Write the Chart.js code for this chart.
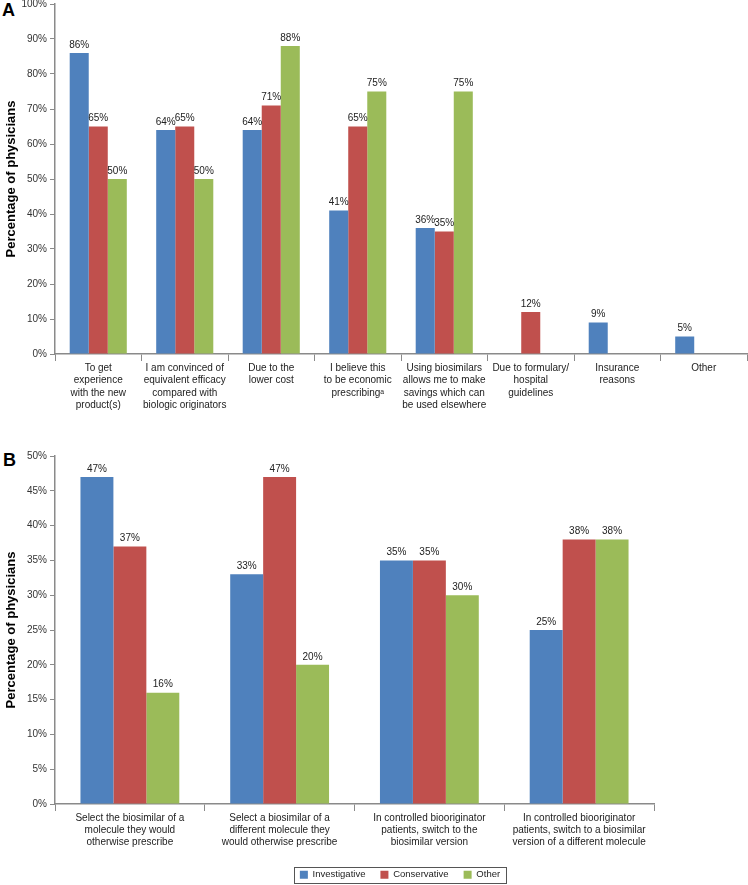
<!DOCTYPE html>
<html>
<head>
<meta charset="utf-8">
<script src="https://cdn.jsdelivr.net/npm/chart.js@4/dist/chart.umd.min.js"></script>
<style>
  html, body { margin: 0; padding: 0; background: #fff; }
  .wrap { position: absolute; left: 0; width: 748px; }
  .panel { position: absolute; font: bold 18px "Liberation Sans", Arial, sans-serif; line-height: 18px; color: #000; }
</style>
</head>
<body>
<div class="panel" style="left:2px;top:1px">A</div>
<div class="panel" style="left:3px;top:451px">B</div>
<div class="wrap" style="top:0;height:440px"><canvas id="chartA" width="748" height="440"></canvas></div>
<div class="wrap" style="top:440px;height:445px"><canvas id="chartB" width="748" height="445"></canvas></div>
<script>
const groups = ['Investigative', 'Conservative', 'Other'];
const groupColors = ['#4F81BD', '#C0504D', '#9BBB59'];

// panel A: reasons for prescribing biosimilars
const reasonLabels = [
  ['To get', 'experience', 'with the new', 'product(s)'],
  ['I am convinced of', 'equivalent efficacy', 'compared with', 'biologic originators'],
  ['Due to the', 'lower cost'],
  ['I believe this', 'to be economic', 'prescribingᵃ'],
  ['Using biosimilars', 'allows me to make', 'savings which can', 'be used elsewhere'],
  ['Due to formulary/', 'hospital', 'guidelines'],
  ['Insurance', 'reasons'],
  ['Other']
];
const reasonInvestigative = [86, 64, 64, 41, 36, null, 9, 5];
const reasonConservative = [65, 65, 71, 65, 35, 12, null, null];
const reasonOther = [50, 50, 88, 75, 75, null, null, null];

// panel B: willingness to switch
const switchLabels = [
  ['Select the biosimilar of a', 'molecule they would', 'otherwise prescribe'],
  ['Select a biosimilar of a', 'different molecule they', 'would otherwise prescribe'],
  ['In controlled biooriginator', 'patients, switch to the', 'biosimilar version'],
  ['In controlled biooriginator', 'patients, switch to a biosimilar', 'version of a different molecule']
];
const switchInvestigative = [47, 33, 35, 25];
const switchConservative = [37, 47, 35, 38];
const switchOther = [16, 20, 30, 38];

const FONT = '"Liberation Sans", Arial, sans-serif';
const AXIS = '#8a8a8a';
Chart.defaults.font.family = FONT;

const valueLabels = {
  id: 'valueLabels',
  afterDatasetsDraw(chart) {
    const ctx = chart.ctx;
    ctx.save();
    ctx.font = '10px ' + FONT;
    ctx.fillStyle = '#222';
    ctx.textAlign = 'center';
    ctx.textBaseline = 'bottom';
    chart.data.datasets.forEach((ds, i) => {
      chart.getDatasetMeta(i).data.forEach((bar, j) => {
        const v = ds.data[j];
        if (v == null) return;
        ctx.fillText(v + '%', bar.x, bar.y - 3);
      });
    });
    ctx.restore();
  }
};

function makeDatasets(a, b, c) {
  return [a, b, c].map((d, i) => ({
    label: groups[i],
    data: d,
    backgroundColor: groupColors[i],
    borderWidth: 0,
    categoryPercentage: 0.66,
    barPercentage: 1
  }));
}

function makeScales(max, step, xHeight, lineH) {
  return {
    x: {
      grid: { display: true, drawOnChartArea: false, drawTicks: true, tickLength: 7, color: AXIS, lineWidth: 1, offset: true },
      border: { color: AXIS, width: 1.5 },
      ticks: { color: '#222', font: { size: 10, lineHeight: lineH }, padding: 1, maxRotation: 0, autoSkip: false },
      afterFit: s => { s.height = typeof xHeight === 'function' ? xHeight(s) : xHeight; s.paddingLeft = 0; s.paddingRight = 0; }
    },
    y: {
      min: 0, max: max,
      ticks: { stepSize: step, callback: v => v + '%', color: '#333', font: { size: 10 }, padding: 3 },
      grid: { drawOnChartArea: false, drawTicks: true, tickLength: 5, color: AXIS },
      border: { color: AXIS, width: 1.5 },
      title: { display: true, text: 'Percentage of physicians', color: '#000', font: { size: 13, weight: 'bold' }, padding: { top: 4, bottom: 0 } },
      afterFit: s => { s.width = 55; s.paddingTop = 0; s.paddingBottom = 0; }
    }
  };
}

new Chart(document.getElementById('chartA'), {
  type: 'bar',
  data: { labels: reasonLabels, datasets: makeDatasets(reasonInvestigative, reasonConservative, reasonOther) },
  options: {
    responsive: false,
    animation: false,
    layout: { padding: { top: 4, right: 1, left: 0, bottom: 0 } },
    plugins: { legend: { display: false }, tooltip: { enabled: false } },
    scales: makeScales(100, 10, 86, 1.23)
  },
  plugins: [valueLabels]
});

// move the legend to where it sits in the figure and frame it
const legendFrame = {
  id: 'legendFrame',
  afterLayout(chart) {
    const lg = chart.legend;
    const itemH = 10;
    const top = 435 - lg.options.labels.padding - itemH / 2;
    const h = lg.bottom - lg.top;
    lg.top = top; lg.bottom = top + h;
    lg.left = 0; lg.right = 800;
  },
  afterDraw(chart) {
    const hb = chart.legend.legendHitBoxes;
    if (!hb || !hb.length) return;
    const first = hb[0], last = hb[hb.length - 1];
    const x0 = first.left - 6, x1 = last.left + last.width + 6;
    const yc = first.top + first.height / 2;
    const ctx = chart.ctx;
    ctx.save();
    ctx.strokeStyle = '#555';
    ctx.lineWidth = 1;
    ctx.strokeRect(Math.round(x0) + 0.5, Math.round(yc - 8) + 0.5, Math.round(x1 - x0), 16);
    ctx.restore();
  }
};

new Chart(document.getElementById('chartB'), {
  type: 'bar',
  data: { labels: switchLabels, datasets: makeDatasets(switchInvestigative, switchConservative, switchOther) },
  options: {
    responsive: false,
    animation: false,
    layout: { padding: { top: 16, right: 94, left: 0, bottom: 0 } },
    plugins: {
      legend: {
        display: true,
        position: 'bottom',
        labels: { boxWidth: 8, boxHeight: 8, padding: 15, color: '#222', font: { size: 9.5 } }
      },
      tooltip: { enabled: false }
    },
    scales: makeScales(50, 5, s => 81 - (s.chart.legend ? s.chart.legend.height : 0), 1.2)
  },
  plugins: [valueLabels, legendFrame]
});
</script>
</body>
</html>
